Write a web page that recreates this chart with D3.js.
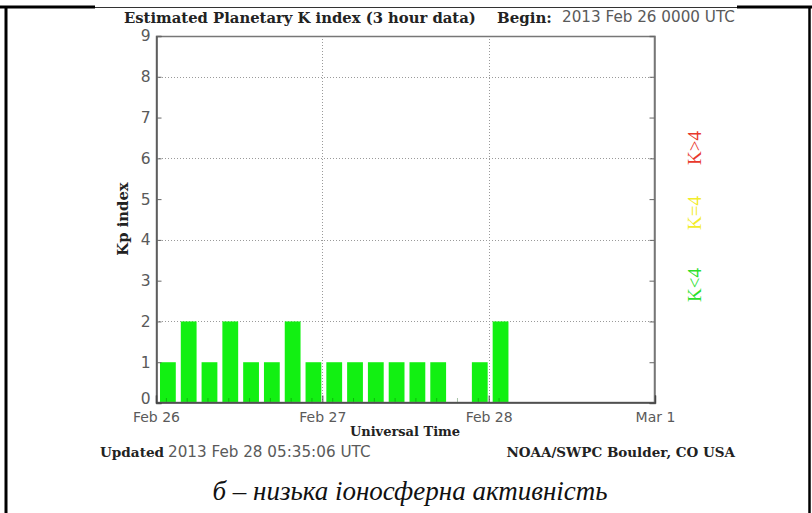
<!DOCTYPE html>
<html>
<head>
<meta charset="utf-8">
<script src="https://cdn.jsdelivr.net/npm/d3@7"></script>
<style>
  html, body { margin: 0; padding: 0; background: #fff; }
  svg { display: block; }
  .serifb { font-family: "DejaVu Serif", serif; font-weight: bold; fill: #222; }
  .sans { font-family: "DejaVu Sans", sans-serif; fill: #5a5a5a; }
</style>
</head>
<body>
<svg id="chart" width="812" height="513"></svg>
<script>
// Estimated planetary Kp index, 3-hour intervals starting 2013 Feb 26 00 UTC
const kpValues = [1, 2, 1, 2, 1, 1, 2, 1, 1, 1, 1, 1, 1, 1, 0, 1, 2];
const yTicks = [0, 1, 2, 3, 4, 5, 6, 7, 8, 9];
const gridLevels = [2, 4, 6, 8];
const dayTicks = [Date.UTC(2013, 1, 26), Date.UTC(2013, 1, 27), Date.UTC(2013, 1, 28), Date.UTC(2013, 2, 1)];
const dayLabels = ["Feb 26", "Feb 27", "Feb 28", "Mar 1"];
const legendItems = [
  { label: "K>4", color: "#e8382c" },
  { label: "K=4", color: "#f2ec2a" },
  { label: "K<4", color: "#2be02b" }
];
const titleText = "Estimated Planetary K index (3 hour data)";
const beginLabel = "Begin:";
const beginText = "2013 Feb 26 0000 UTC";
const updatedLabel = "Updated";
const updatedText = "2013 Feb 28 05:35:06 UTC";
const sourceText = "NOAA/SWPC Boulder, CO USA";
const caption = "б – низька іоносферна активність";

const HOUR = 3600 * 1000;
const svg = d3.select("#chart");
svg.append("rect").attr("width", 812).attr("height", 513).attr("fill", "#fff");

const x = d3.scaleTime()
  .domain([new Date(dayTicks[0]), new Date(dayTicks[3])])
  .range([156, 655]);
const y = d3.scaleLinear().domain([0, 9]).range([403, 36]);

// dotted grid
const grid = svg.append("g").attr("stroke", "#9a9a9a").attr("stroke-width", 1).attr("stroke-dasharray", "1,2");
grid.selectAll("line.h").data(gridLevels).join("line").attr("class", "h")
  .attr("x1", x.range()[0]).attr("x2", x.range()[1])
  .attr("y1", d => Math.round(y(d)) + 0.5).attr("y2", d => Math.round(y(d)) + 0.5);
grid.selectAll("line.v").data(dayTicks.slice(1, 3)).join("line").attr("class", "v")
  .attr("x1", d => Math.round(x(new Date(d))) + 0.5).attr("x2", d => Math.round(x(new Date(d))) + 0.5)
  .attr("y1", y(9)).attr("y2", y(0));

// bars
const bars = kpValues.map((v, i) => ({
  v,
  t0: new Date(dayTicks[0] + i * 3 * HOUR),
  t1: new Date(dayTicks[0] + (i + 1) * 3 * HOUR)
}));
svg.append("g").selectAll("rect").data(bars.filter(d => d.v > 0)).join("rect")
  .attr("x", d => x(d.t0) + 4)
  .attr("width", d => x(d.t1) - x(d.t0) - 5)
  .attr("y", d => y(d.v))
  .attr("height", d => y(0) - y(d.v))
  .attr("fill", "#12f012");

// minor 3-hour ticks along the time axis
const minor = d3.range(kpValues.length).map(i => new Date(dayTicks[0] + (i + 0.5) * 3 * HOUR));
svg.append("g").selectAll("line").data(minor).join("line")
  .attr("x1", d => x(d)).attr("x2", d => x(d))
  .attr("y1", y(0)).attr("y2", y(0) - 5)
  .attr("stroke", "rgba(0,80,0,0.35)").attr("stroke-width", 1);

// plot frame
svg.append("rect")
  .attr("x", 156.5).attr("y", 36.5).attr("width", 498).attr("height", 366)
  .attr("fill", "none").attr("stroke", "#777").attr("stroke-width", 1.5);

// y axes
const yAxis = d3.axisLeft(y).tickValues(yTicks).tickSize(-5).tickPadding(6).tickFormat(d3.format("d"));
const gy = svg.append("g").attr("transform", "translate(156.5,0)").call(yAxis);
gy.select(".domain").attr("stroke", "#555").attr("stroke-width", 1.5);
gy.selectAll(".tick line").attr("stroke", "#666");
gy.selectAll(".tick text").attr("class", "sans").attr("font-size", 15.5)
  .attr("y", d => d === 0 ? -4 : 0);

const gyr = svg.append("g").attr("transform", "translate(654.5,0)")
  .call(d3.axisRight(y).tickValues(yTicks).tickSize(-5).tickFormat(""));
gyr.select(".domain").attr("stroke", "#777").attr("stroke-width", 1.5);
gyr.selectAll(".tick line").attr("stroke", "#666");

// x axis
const xAxis = d3.axisBottom(x).tickValues(dayTicks.map(d => new Date(d)))
  .tickSize(-7).tickPadding(8).tickFormat((d, i) => dayLabels[i]);
const gx = svg.append("g").attr("transform", "translate(0,402.5)").call(xAxis);
gx.select(".domain").attr("stroke", "#444").attr("stroke-width", 1.5);
gx.selectAll(".tick line").attr("stroke", "#444");
gx.selectAll(".tick text").attr("class", "sans").attr("font-size", 14)
  .attr("y", 19).attr("dy", 0);

// axis titles
svg.append("text").attr("class", "serifb").attr("font-size", 14.8)
  .attr("text-anchor", "middle")
  .attr("transform", "translate(128,219) rotate(-90)")
  .text("Kp index");
svg.append("text").attr("class", "serifb").attr("font-size", 13)
  .attr("x", 405).attr("y", 436).attr("text-anchor", "middle")
  .text("Universal Time");

// header
svg.append("text").attr("class", "serifb").attr("font-size", 14.8)
  .attr("x", 124).attr("y", 23).text(titleText);
svg.append("text").attr("class", "serifb").attr("font-size", 15)
  .attr("x", 497).attr("y", 23).text(beginLabel);
svg.append("text").attr("class", "sans").attr("font-size", 15.2)
  .attr("x", 562).attr("y", 22).text(beginText);

// footer
svg.append("text").attr("class", "serifb").attr("font-size", 13.6)
  .attr("x", 100).attr("y", 457).text(updatedLabel);
svg.append("text").attr("class", "sans").attr("font-size", 15.2)
  .attr("x", 168).attr("y", 457).text(updatedText);
svg.append("text").attr("class", "serifb").attr("font-size", 13.5)
  .attr("x", 735).attr("y", 457).attr("text-anchor", "end").text(sourceText);

// colour key on the right
const legendY = [148, 213, 285];
svg.append("g").selectAll("text").data(legendItems).join("text")
  .attr("font-family", "'Liberation Serif', serif")
  .attr("font-size", 19)
  .attr("text-anchor", "middle")
  .attr("fill", d => d.color)
  .attr("transform", (d, i) => `translate(701,${legendY[i]}) rotate(-90)`)
  .text(d => d.label);

// table cell border and caption
const border = svg.append("g").attr("stroke", "#000");
border.append("line").attr("x1", 0).attr("x2", 95).attr("y1", 7).attr("y2", 7).attr("stroke-width", 3);
border.append("line").attr("x1", 737).attr("x2", 812).attr("y1", 7).attr("y2", 7).attr("stroke-width", 3);
border.append("line").attr("x1", 95).attr("x2", 737).attr("y1", 7.5).attr("y2", 7.5).attr("stroke-width", 1).attr("stroke", "#333");
border.append("line").attr("x1", 6).attr("x2", 6).attr("y1", 6).attr("y2", 513).attr("stroke-width", 3);
border.append("line").attr("x1", 809.5).attr("x2", 809.5).attr("y1", 6).attr("y2", 513).attr("stroke-width", 2.5);

svg.append("text")
  .attr("font-family", "'Liberation Serif', 'Times New Roman', serif")
  .attr("font-style", "italic").attr("font-size", 27).attr("fill", "#111")
  .attr("x", 410).attr("y", 500).attr("text-anchor", "middle")
  .text(caption);
</script>
</body>
</html>
